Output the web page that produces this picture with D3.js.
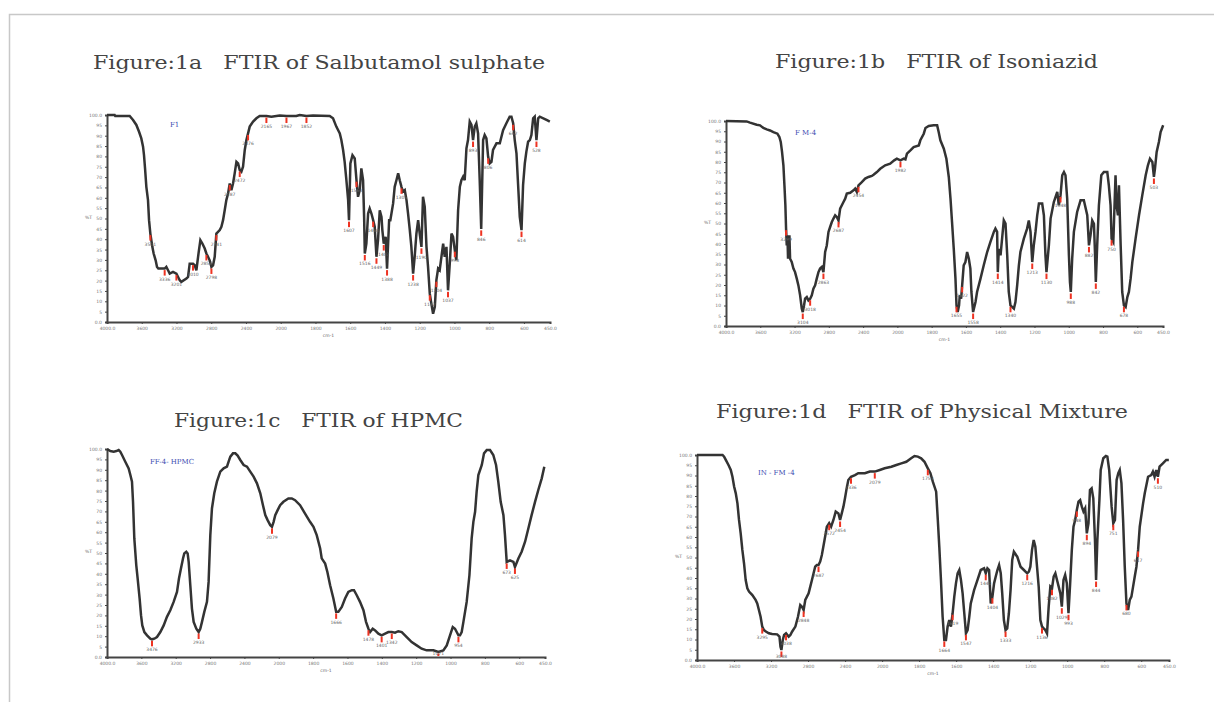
<!DOCTYPE html>
<meta charset="utf-8">
<title>FTIR figures</title>
<style type="text/css">
  body { margin: 0; background: #fff; }
  .title { font-family: "DejaVu Serif", serif; font-size: 19px; fill: #444; white-space: pre; }
  .tick text { font-family: "DejaVu Sans", sans-serif; font-size: 4.5px; fill: #777; }
  .tag { font-family: "DejaVu Serif", serif; font-size: 7px; fill: #3b4bb0; }
  .plab { font-family: "DejaVu Sans", sans-serif; font-size: 4.5px; fill: #666; }
</style>
<body>
<script src="https://cdn.jsdelivr.net/npm/d3@7"></script>
<script>

// tick labels shared by all four spectra
var xTicks = [4000, 3600, 3200, 2800, 2400, 2000, 1800, 1600, 1400, 1200, 1000, 800, 600, 450];
var yTicks = d3.range(0, 101, 5);

// Figure 1a - Salbutamol sulphate (wavenumber cm-1, %T)
var aWave = [4000,3912,3905,3739,3700,3662,3631,3605,3585,3574,3562,3547,3528,3516,3501,3478,3463,3440,3424,3409,3336,3317,3297,3278,3240,3201,3163,3144,3086,3067,3048,3010,2990,2971,2944,2925,2902,2875,2856,2837,2818,2798,2779,2760,2741,2702,2683,2664,2645,2626,2606,2587,2568,2549,2530,2510,2491,2472,2453,2434,2414,2395,2376,2357,2318,2280,2242,2165,2107,2050,2011,1967,1910,1891,1852,1814,1718,1699,1680,1660,1651,1641,1632,1622,1612,1607,1599,1587,1574,1564,1555,1545,1536,1526,1520,1516,1507,1497,1488,1478,1468,1459,1449,1440,1430,1420,1415,1407,1396,1388,1376,1369,1353,1344,1334,1324,1315,1305,1296,1286,1276,1267,1257,1248,1238,1229,1219,1209,1200,1190,1181,1171,1161,1152,1142,1133,1123,1113,1104,1094,1085,1075,1065,1056,1046,1037,1027,1017,1008,998,989,979,969,960,950,941,931,922,912,902,893,883,874,864,854,846,835,826,816,806,797,787,778,768,758,739,720,701,682,672,662,653,643,634,624,614,605,595,586,576,566,557,547,538,528,518,509,470,451];
var aT = [100,100,99.5,99.5,97.6,95.2,91.9,88.7,84.7,80.6,74.2,65.3,58.9,49.2,42.7,36.3,33.1,29.8,26.6,25.8,25.8,26.6,25,23.4,24.2,23.4,20.2,19.4,21,21.8,28.2,28.2,27.4,25,33.9,39.5,37.9,35.5,33.1,31.5,29.8,26.6,27.4,31.5,42.7,44.4,46,49.2,54,58.9,62.1,66.9,63.7,66.9,71.8,77.4,76.6,73.4,72.6,75,83.1,87.9,91.1,94.4,96.8,98.4,99.5,99.5,99.2,99.5,99.7,99.5,99.5,100,99.5,99.7,99.5,98.4,94.4,91.1,87.9,83.1,77.4,68.5,58.9,49.2,76.6,80.6,79,68.5,60.5,63.7,74.2,68.5,50.8,33.1,37.9,52.4,54.8,52.4,49.2,46,31.5,39.5,54,50.8,44.4,37.9,41.1,25.8,49.2,49.2,57.3,65.3,68.5,71.8,68.5,65.3,63,63.7,58.9,52.4,44.4,36.3,23.4,31.5,42.7,49.2,42.7,36.3,60.5,55.6,36.3,26.6,13.7,8.9,4,7.3,20.2,25.8,25,31.5,37.9,31.5,36.3,15.3,28.2,42.7,41.1,34.7,29.8,54,65.3,68.5,70.2,68.5,83.9,87.9,96.8,95.2,87.9,94.4,96,91.1,66.9,45,87.9,90.3,88.7,79.8,76.6,77.4,83.1,84.7,86.3,86.3,92.7,96,99.2,99.2,96,87.9,81.5,66.9,50.8,44.4,66.1,76.6,82.3,87.1,87.9,90.3,98.4,99.2,87.9,98.4,99.2,97.6,96.8];
var aPeaks = [3501,3336,3201,3010,2856,2798,2741,2587,2472,2376,2165,1967,1852,1607,1564,1516,1468,1449,1407,1388,1305,1238,1190,1142,1104,1037,998,893,846,806,662,614,528];

// Figure 1b - Isoniazid
var bWave = [4000,3759,3720,3642,3603,3564,3525,3486,3447,3400,3377,3361,3346,3330,3318,3307,3299,3291,3283,3276,3268,3260,3252,3233,3213,3194,3174,3155,3135,3116,3104,3089,3077,3057,3038,3018,2999,2980,2960,2941,2921,2902,2882,2863,2843,2824,2804,2785,2765,2746,2726,2707,2687,2668,2648,2629,2609,2590,2551,2512,2493,2473,2454,2415,2376,2337,2298,2278,2239,2200,2142,2084,2037,2006,1982,1963,1953,1944,1924,1905,1875,1866,1846,1836,1817,1788,1768,1759,1749,1729,1714,1700,1690,1681,1671,1661,1655,1648,1640,1636,1628,1622,1613,1603,1593,1583,1574,1568,1558,1544,1535,1515,1496,1476,1457,1437,1428,1418,1414,1408,1398,1389,1379,1369,1359,1350,1340,1320,1311,1301,1291,1282,1262,1243,1233,1223,1213,1204,1194,1184,1174,1155,1145,1136,1130,1116,1106,1087,1067,1058,1048,1038,1028,1019,1009,999,993,988,980,970,951,931,912,892,882,873,863,853,847,842,834,824,810,795,775,766,756,750,740,736,727,721,713,707,697,688,678,668,658,649,639,629,610,590,571,551,538,526,512,503,497,487,474,464,449];
var bT = [100,99.8,99.2,98.2,97.9,96.6,95.9,95.4,94.6,93.8,92.2,89.8,84.9,78.4,68.6,58.9,47.5,39.3,44.2,32.8,42.6,44.2,32.8,31.2,28,26.3,23.1,19.8,15,8.5,6.8,10.1,13.3,14.1,12.5,13.3,15,18.2,19.8,23.1,26.3,28,28.8,26.3,36.1,39.3,45.9,48.3,50.7,52.4,54,53.2,51.5,57.2,58.9,60.5,62.1,64.6,65,66.2,67,65.4,68.6,70.2,71.9,72.7,73.2,73.8,75.1,76.7,78.4,79.2,80.8,81.6,80.8,81.6,81.3,84.1,85.7,87.3,88.1,90.6,93.8,96.6,97.6,97.9,97.9,94.6,90.6,86.5,81.6,72.7,62.1,50.7,37.7,23.1,10.1,6.8,10.1,15,13.3,19.8,29.6,31.2,36.1,32.8,28,16.6,6.8,11.7,16.6,23.1,29.6,36.1,41,45.9,47.5,45.9,26.3,37.7,34.5,42.6,51.5,49.9,34.5,16.6,10.1,8.5,11.7,19.8,29.6,36.1,42.6,47.5,51.5,45.9,31.2,39.3,45.9,54,59.7,59.7,54,34.5,26.3,39.3,52.4,60.5,65.4,58.9,63.7,73.5,75.1,73.5,62.1,34.5,21.5,16.6,32.8,45.9,55.6,61.3,61.3,54,39.3,44.2,51.5,49.9,36.1,21.5,39.3,58.9,73.5,75.1,75.1,68.6,58.9,42.6,41,50.7,73.5,58.9,54,68.6,39.3,16.6,10.1,9.3,14.1,16.6,23.1,31.2,42.6,54,63.7,73.5,78.4,81.6,80,72.7,76.7,84.9,89.8,94.6,97.9];
var bPeaks = [3299,3104,3018,2863,2687,2454,1982,1655,1622,1558,1414,1340,1213,1130,1048,988,882,842,750,678,503];

// Figure 1c - HPMC
var cWave = [4000,3961,3922,3891,3864,3845,3825,3787,3748,3728,3709,3697,3682,3659,3643,3620,3604,3589,3565,3534,3496,3476,3449,3418,3379,3340,3302,3263,3224,3185,3162,3139,3115,3100,3077,3061,3049,3030,3011,2991,2960,2933,2914,2894,2867,2836,2817,2797,2778,2751,2720,2681,2642,2603,2584,2564,2533,2506,2479,2448,2409,2370,2332,2293,2254,2215,2184,2157,2130,2099,2079,2060,2041,2013,1992,1973,1944,1924,1905,1876,1853,1818,1798,1779,1759,1750,1730,1717,1701,1682,1666,1653,1633,1614,1595,1575,1562,1546,1527,1507,1492,1478,1468,1453,1439,1420,1401,1381,1362,1342,1323,1304,1284,1255,1226,1197,1168,1139,1100,1071,1042,1022,1003,987,974,964,954,945,935,925,906,890,877,867,857,848,838,818,805,789,770,751,735,722,708,692,683,673,654,634,625,605,586,566,547,528,508,489,469,454];
var cT = [100,99,98.7,99,99.5,98.7,97.1,93.9,90.7,87.5,84.3,74.6,57,44.1,37.7,28.1,20.1,15.2,12,10.4,8.8,8.5,8.8,9.6,12,15.2,19.3,22.5,26.5,31.3,37.7,42.5,47.4,49.8,50.6,49.8,45.7,34.5,23.3,16.9,13.6,12,13.6,16.9,21.7,26.5,36.1,58.6,71.4,78.7,84.3,89.1,90.7,91.5,93.9,96.3,97.9,97.9,96.8,94.7,92.3,91.5,89.1,86.7,83.5,78.7,73,68.2,65.8,63.4,62.6,65,68.2,70.6,73,74.6,76.2,76.2,75.4,73,69.8,65,62.6,58.6,52.2,47.4,44.9,40.9,34.5,28.1,21.7,21.7,24.1,28.1,31.3,32.1,32.1,29.7,26.5,22.5,16.9,13.6,12,13.6,12.8,11.2,10.4,11.2,12,12,11.7,12.4,12,9.6,7.2,5.6,4,3.2,3.2,2.4,3.2,5.6,10.4,14.4,13.6,12,10.4,10.4,12,16.9,26.5,39.3,57,65,69.8,79.5,87.5,92.3,97.9,99.5,99.5,97.1,92.3,84.3,74.6,68.2,58.6,45.7,46.5,45.7,43.3,47.4,50.6,55.4,61.8,68.2,74.6,80.3,85.9,91.5];
var cPeaks = [3476,2933,2079,1666,1478,1401,1342,1071,954,673,625];

// Figure 1d - Physical mixture
var dWave = [4000,3724,3707,3689,3660,3635,3617,3599,3581,3563,3546,3528,3510,3492,3474,3456,3438,3402,3367,3349,3331,3313,3295,3277,3252,3224,3188,3134,3109,3098,3088,3073,3059,3038,3009,2991,2973,2937,2909,2884,2866,2848,2830,2812,2794,2776,2758,2723,2705,2687,2669,2651,2622,2597,2572,2551,2526,2501,2472,2454,2436,2418,2401,2383,2365,2336,2293,2258,2222,2186,2132,2079,2025,1986,1950,1923,1896,1869,1843,1825,1807,1789,1771,1753,1739,1726,1717,1708,1699,1691,1682,1673,1664,1655,1646,1637,1628,1619,1610,1601,1592,1583,1574,1565,1556,1547,1538,1529,1521,1503,1485,1467,1449,1440,1431,1422,1413,1404,1395,1386,1377,1368,1359,1351,1342,1333,1324,1315,1306,1297,1288,1270,1252,1234,1216,1207,1199,1190,1181,1172,1163,1154,1145,1136,1127,1118,1109,1100,1091,1082,1073,1064,1055,1046,1037,1029,1020,1011,1002,993,984,975,966,957,948,939,930,921,912,903,894,885,877,868,859,850,844,837,826,819,805,791,783,773,760,751,742,733,724,716,707,698,689,680,671,662,653,644,635,626,617,608,590,581,563,546,537,528,519,510,501,483,465,451];
var dT = [100,100,99.2,97.6,95.1,92.7,89.4,84.6,81.3,76.4,68.3,61.8,53.7,47.2,39,35,33.4,31.7,29.3,27.6,24.4,21.1,16.3,14.6,13.8,13,12.7,12.5,11.4,6.5,4.9,9.8,12.2,13,11.4,12.2,13.8,16.3,21.1,26.8,26,24.4,29.3,30.9,32.5,35.8,39,45.5,46.3,46.3,48,51.2,58.5,65,66.7,65,68.3,72.4,71.5,68.3,71.5,74.8,78.9,83.7,87.8,89.4,90.2,91.1,91.1,91.1,91.9,91.9,92.7,93.5,94.3,95.1,95.9,96.7,98.4,99.5,99.2,98.4,96.7,93.5,91.1,87,84.6,82.1,68.3,55.3,39,21.1,9.8,9.8,16.3,19.5,16.3,22.8,30.9,37.4,42.3,43.9,39,32.5,22.8,13,14.6,21.1,27.6,34.1,39,43.9,44.7,42.3,44.7,43.9,27.6,30.9,37.4,40.7,43.9,46.3,42.3,32.5,19.5,14.6,15.4,22.8,34.1,48.8,52.8,50.4,45.5,43.9,42.3,43.1,45.5,53.7,58.5,55.3,45.5,35.8,19.5,16.3,15.4,14.6,13,26,35.8,35,40.7,42.3,39,35.8,32.5,26,39,41.5,37.4,22.8,37.4,53.7,65,68.3,73.2,77.2,78,74.8,72.4,74,61.8,66.7,82.9,83.7,78.9,58.5,39,58.5,78,92.7,98.4,99.5,99.2,92.7,74.8,66.7,68.3,87.8,91.1,92.7,86.3,68.3,45.5,27.6,24.4,29.3,30.9,35.8,40.7,45.5,53.7,65,76.4,81.3,89.4,90.2,91.9,89.4,92.7,89.4,94.3,95.9,97.6,97.6];
var dPeaks = [3295,3088,3038,2848,2687,2572,2454,2336,2079,1753,1664,1619,1547,1440,1404,1333,1216,1136,1082,1029,993,948,894,844,751,680,617,510];

var panels = [
  {title: "Figure:1a   FTIR of Salbutamol sulphate", tx: 93, ty: 69, tw: 452, tag: "F1",
   wave: aWave, t: aT, peaks: aPeaks, box: [107, 550, 115, 322], tagAt: [0.142, 12]},
  {title: "Figure:1b   FTIR of Isoniazid", tx: 775, ty: 68, tw: 323, tag: "F M-4",
   wave: bWave, t: bT, peaks: bPeaks, box: [726, 1163, 121, 326], tagAt: [0.158, 14]},
  {title: "Figure:1c   FTIR of HPMC", tx: 174, ty: 427, tw: 289, tag: "FF-4- HPMC",
   wave: cWave, t: cT, peaks: cPeaks, box: [107, 545, 449, 657], tagAt: [0.098, 15]},
  {title: "Figure:1d   FTIR of Physical Mixture", tx: 716, ty: 418, tw: 412, tag: "IN - FM -4",
   wave: dWave, t: dT, peaks: dPeaks, box: [697, 1169, 455, 660], tagAt: [0.129, 20]}
];

var svg = d3.select("body").append("svg")
  .attr("width", 1214)
  .attr("height", 702);

// page frame
svg.append("path")
  .attr("d", "M9.5,702 V14.5 H1214")
  .attr("fill", "none")
  .attr("stroke", "#c8c8c8")
  .attr("stroke-width", 1.5);

function tLabel(v) { return v == 100 ? "100.0" : v == 0 ? "0.0" : v; }
function wLabel(v) { return (v == 4000 || v == 450) ? v + ".0" : v; }

panels.forEach(function(p) {
  var x0 = p.box[0], x1 = p.box[1], yTop = p.box[2], yBot = p.box[3];

  // perkin-elmer style axis: 4000-2000 compressed, 2000-450 expanded x2
  var per = (x1 - x0) / 12.75;
  var x = d3.scaleLinear().domain([4000, 2000, 450]).range([x0, x0 + 5 * per, x1]);
  var y = d3.scaleLinear().domain([0, 100]).range([yBot, yTop]);

  svg.append("text")
    .attr("class", "title")
    .attr("x", p.tx)
    .attr("y", p.ty)
    .attr("xml:space", "preserve")
    .attr("textLength", p.tw)
    .attr("lengthAdjust", "spacingAndGlyphs")
    .text(p.title);

  // axes
  svg.append("g")
    .attr("transform", "translate(0," + yBot + ")")
    .call(d3.axisBottom(x).tickValues(xTicks).tickFormat(wLabel).tickSize(2).tickPadding(3))
    .call(function(g) { g.select(".domain").attr("stroke", "#444").attr("stroke-width", 2); })
    .call(function(g) { g.selectAll(".tick line").attr("stroke", "#444"); });

  svg.append("g")
    .attr("transform", "translate(" + x0 + ",0)")
    .call(d3.axisLeft(y).tickValues(yTicks).tickFormat(tLabel).tickSize(2).tickPadding(3))
    .call(function(g) { g.select(".domain").attr("stroke", "#444").attr("stroke-width", 2); })
    .call(function(g) { g.selectAll(".tick line").attr("stroke", "#444"); });

  svg.append("text")
    .attr("class", "plab")
    .attr("x", (x0 + x1) / 2)
    .attr("y", yBot + 15)
    .attr("text-anchor", "middle")
    .text("cm-1");

  svg.append("text")
    .attr("class", "plab")
    .attr("x", x0 - 22)
    .attr("y", (yTop + yBot) / 2)
    .text("%T");

  svg.append("text")
    .attr("class", "tag")
    .attr("x", x0 + (x1 - x0) * p.tagAt[0])
    .attr("y", yTop + p.tagAt[1])
    .text(p.tag);

  var data = p.wave.map(function(w, i) { return [w, p.t[i]]; });

  svg.append("path")
    .datum(data)
    .attr("fill", "none")
    .attr("stroke", "#333")
    .attr("stroke-width", 2.5)
    .attr("stroke-linejoin", "miter")
    .attr("d", d3.line()
      .x(function(d) { return x(d[0]); })
      .y(function(d) { return y(d[1]); }));

  // peak picks
  function tAt(w) {
    for (var i = 1; i < p.wave.length; i++) {
      if (p.wave[i] <= w) {
        var f = (p.wave[i - 1] - w) / (p.wave[i - 1] - p.wave[i]);
        return p.t[i - 1] + f * (p.t[i] - p.t[i - 1]);
      }
    }
    return p.t[p.t.length - 1];
  }

  var pk = svg.append("g").selectAll("g")
    .data(p.peaks)
    .enter()
    .append("g");

  pk.append("line")
    .attr("x1", function(d) { return x(d); })
    .attr("x2", function(d) { return x(d); })
    .attr("y1", function(d) { return y(tAt(d)) + 1.5; })
    .attr("y2", function(d) { return Math.min(y(tAt(d)) + 7, yBot - 1); })
    .attr("stroke", "#ee3322")
    .attr("stroke-width", 2);

  pk.append("text")
    .attr("class", "plab")
    .attr("x", function(d) { return x(d); })
    .attr("y", function(d) { return Math.min(y(tAt(d)) + 12, yBot - 2); })
    .attr("text-anchor", "middle")
    .text(function(d) { return d; });
});

</script>
</body>
